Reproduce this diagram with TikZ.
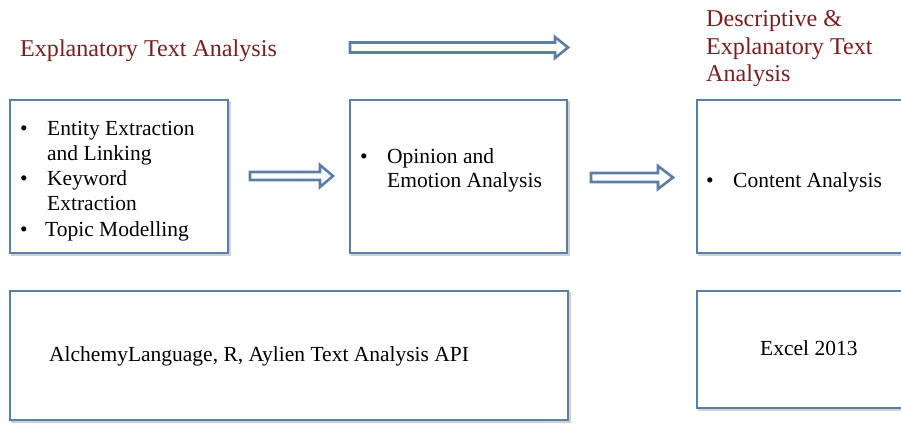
\documentclass[tikz,border=0pt]{standalone}
\usepackage{fontspec}
\setmainfont{Liberation Serif}
\begin{document}
\begin{tikzpicture}[x=1pt,y=-1pt]
\definecolor{boxblue}{HTML}{5B7EA6}
\definecolor{titlered}{HTML}{7A1F1F}
\tikzset{
  panel/.style={draw=boxblue, line width=2.4pt, fill=white},
  shadowpanel/.style={draw=black!18, line width=2.4pt},
  blockarrow/.style={draw=boxblue, line width=2.6pt, fill=white, line join=miter},
  title/.style={anchor=base west, inner sep=0pt, text=titlered, font=\fontsize{24.1}{28}\selectfont},
  body/.style={anchor=base west, inner sep=0pt, font=\fontsize{21.5}{25}\selectfont},
}
\useasboundingbox (0,0) rectangle (901,424);
\fill[white] (0,0) rectangle (901,424);

% boxes (with faint shadow)
\draw[shadowpanel] (12,102) rectangle (230,255);
\draw[panel] (10,100) rectangle (228,253);
\draw[shadowpanel] (352,102) rectangle (569,255);
\draw[panel] (350,100) rectangle (567,253);
\draw[shadowpanel] (699,102) rectangle (910,255);
\draw[panel] (697,100) rectangle (908,253);
\draw[shadowpanel] (12,293) rectangle (570,422);
\draw[panel] (10,291) rectangle (568,420);
\draw[shadowpanel] (699,293) rectangle (910,410);
\draw[panel] (697,291) rectangle (908,408);

% titles
\node[title] (t1) at (20,56) {Explanatory Text Analysis};
\node[title] (t2a) at (706,26) {Descriptive \&};
\node[title] (t2b) at (706,54) {Explanatory Text};
\node[title] (t2c) at (706,81) {Analysis};

% block arrows
\draw[blockarrow] (350,42.5) -- (555,42.5) -- (555,37) -- (568,47.5) -- (555,58) -- (555,52.5) -- (350,52.5) -- cycle;
\draw[blockarrow] (250,172) -- (320,172) -- (320,165) -- (333,176) -- (320,187) -- (320,180) -- (250,180) -- cycle;
\draw[blockarrow] (591,173) -- (658,173) -- (658,166) -- (673,177.5) -- (658,189) -- (658,182) -- (591,182) -- cycle;

% box 1 text
\node[body] (bu1) at (20,135) {\textbullet};
\node[body] (i1a) at (47,135) {Entity Extraction};
\node[body] (i1b) at (47,160) {and Linking};
\node[body] (bu2) at (20,185) {\textbullet};
\node[body] (i2a) at (47,185) {Keyword};
\node[body] (i2b) at (47,210) {Extraction};
\node[body] (bu3) at (20,236) {\textbullet};
\node[body] (i3) at (45,236) {Topic Modelling};

% box 2 text
\node[body] (bu4) at (360,163) {\textbullet};
\node[body] (i4a) at (387,163) {Opinion and};
\node[body] (i4b) at (387,187) {Emotion Analysis};

% box 3 text
\node[body] (bu5) at (706,187) {\textbullet};
\node[body] (i5) at (733,187) {Content Analysis};

% bottom texts
\node[body] (tools1) at (49,361) {AlchemyLanguage, R, Aylien Text Analysis API};
\node[body] (tools2) at (760,355) {Excel 2013};
\end{tikzpicture}
\end{document}
